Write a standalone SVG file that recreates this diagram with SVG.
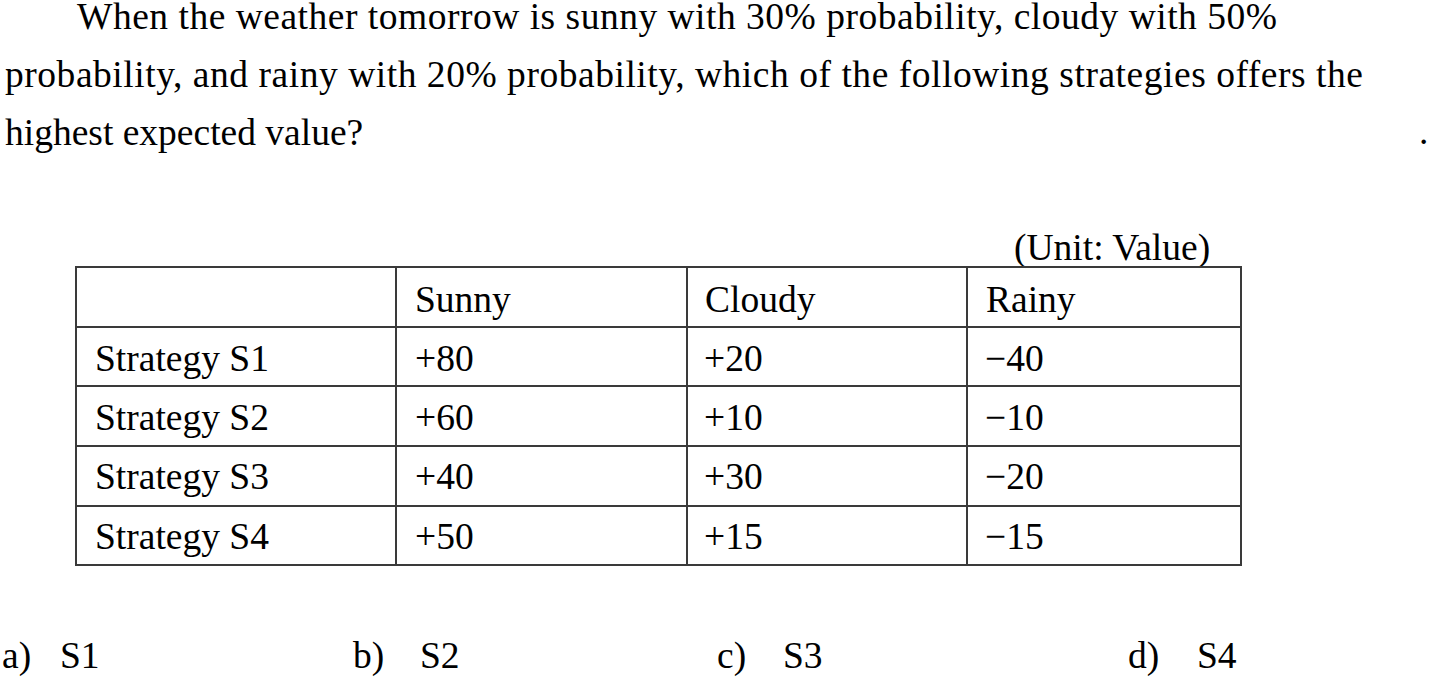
<svg xmlns="http://www.w3.org/2000/svg" width="1429" height="679" viewBox="0 0 1429 679">
<style>
text{font-family:"Liberation Serif","Times New Roman",serif;fill:#000;font-size:37.5px}
.grid line{stroke:#3a3a3a;stroke-width:2}
</style>
<rect width="1429" height="679" fill="#fff"/>
<g id="question">
<text x="77" y="29" textLength="1200">When the weather tomorrow is sunny with 30% probability, cloudy with 50%</text>
<text x="5" y="87" textLength="1358">probability, and rainy with 20% probability, which of the following strategies offers the</text>
<text x="5" y="145">highest expected value?</text>
<text x="1419" y="144">.</text>
</g>
<g id="unit"><text x="1014" y="260">(Unit: Value)</text></g>
<g id="table">
<g class="grid">
<line x1="76" y1="267" x2="1241" y2="267"/>
<line x1="76" y1="327" x2="1241" y2="327"/>
<line x1="76" y1="386" x2="1241" y2="386"/>
<line x1="76" y1="446" x2="1241" y2="446"/>
<line x1="76" y1="506" x2="1241" y2="506"/>
<line x1="76" y1="565" x2="1241" y2="565"/>
<line x1="76" y1="266" x2="76" y2="566"/>
<line x1="396" y1="266" x2="396" y2="566"/>
<line x1="687" y1="266" x2="687" y2="566"/>
<line x1="967" y1="266" x2="967" y2="566"/>
<line x1="1241" y1="266" x2="1241" y2="566"/>
</g>
<g id="header">
<text x="415" y="312">Sunny</text>
<text x="705" y="312">Cloudy</text>
<text x="986" y="312">Rainy</text>
</g>
<g id="row-s1">
<text x="95" y="371">Strategy S1</text>
<text x="415" y="371">+80</text>
<text x="704" y="371">+20</text>
<text x="985" y="371">−40</text>
</g>
<g id="row-s2">
<text x="95" y="430">Strategy S2</text>
<text x="415" y="430">+60</text>
<text x="704" y="430">+10</text>
<text x="985" y="430">−10</text>
</g>
<g id="row-s3">
<text x="95" y="489">Strategy S3</text>
<text x="415" y="489">+40</text>
<text x="704" y="489">+30</text>
<text x="985" y="489">−20</text>
</g>
<g id="row-s4">
<text x="95" y="549">Strategy S4</text>
<text x="415" y="549">+50</text>
<text x="704" y="549">+15</text>
<text x="985" y="549">−15</text>
</g>
</g>
<g id="options">
<text x="2" y="668">a)</text><text x="60" y="668">S1</text>
<text x="353" y="668">b)</text><text x="420" y="668">S2</text>
<text x="717" y="668">c)</text><text x="783" y="668">S3</text>
<text x="1128" y="668">d)</text><text x="1197" y="668">S4</text>
</g>
</svg>
